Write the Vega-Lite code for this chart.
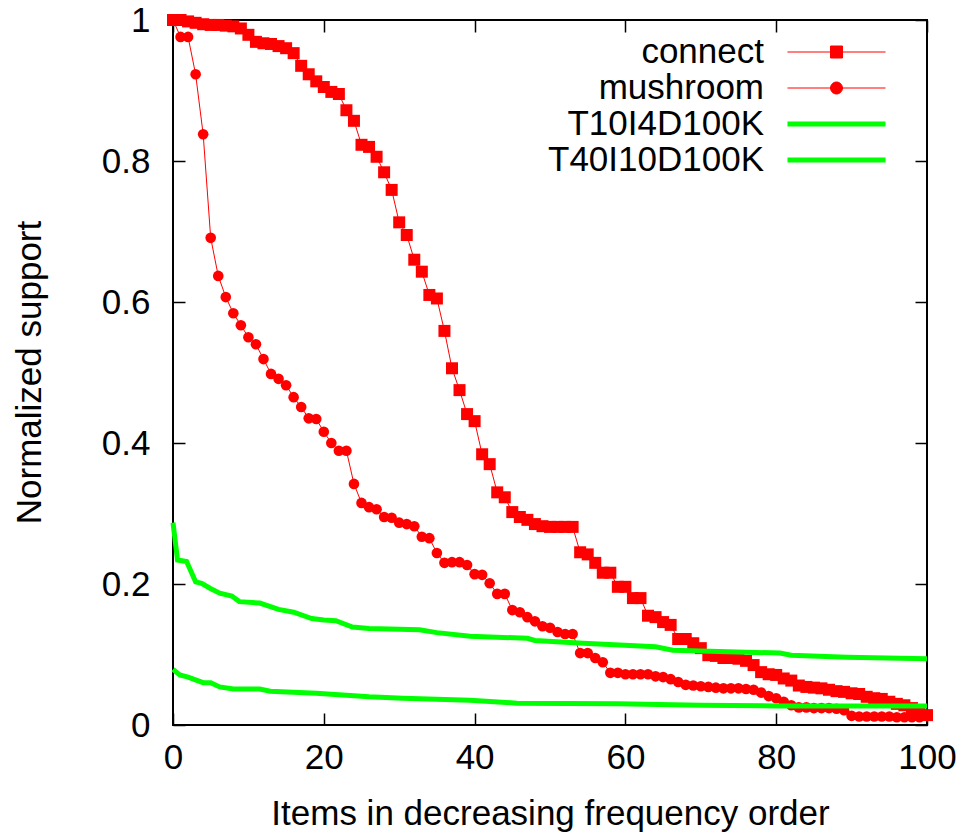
{
  "$schema": "https://vega.github.io/schema/vega-lite/v6.json",
  "width": 754,
  "height": 705,
  "autosize": {"type": "none"},
  "padding": {"left": 173, "top": 20, "right": 38, "bottom": 109},
  "background": "white",
  "config": {
    "view": {"stroke": "black", "strokeWidth": 2},
    "font": "Liberation Sans",
    "axis": {
      "domain": false, "grid": false, "tickColor": "black", "tickWidth": 1.5, "tickSize": -12,
      "labelFont": "Liberation Sans", "labelFontSize": 35, "labelColor": "black",
      "titleFont": "Liberation Sans", "titleFontSize": 35, "titleFontWeight": "normal", "titleColor": "black"
    }
  },
  "data": {"values": [
    {"s":"connect","x":0,"y":1.0},{"s":"connect","x":1,"y":1.0},{"s":"connect","x":2,"y":0.998},{"s":"connect","x":3,"y":0.996},{"s":"connect","x":4,"y":0.994},
    {"s":"connect","x":5,"y":0.993},{"s":"connect","x":6,"y":0.993},{"s":"connect","x":7,"y":0.992},{"s":"connect","x":8,"y":0.991},{"s":"connect","x":9,"y":0.988},
    {"s":"connect","x":10,"y":0.979},{"s":"connect","x":11,"y":0.969},{"s":"connect","x":12,"y":0.967},{"s":"connect","x":13,"y":0.966},{"s":"connect","x":14,"y":0.963},
    {"s":"connect","x":15,"y":0.960},{"s":"connect","x":16,"y":0.953},{"s":"connect","x":17,"y":0.935},{"s":"connect","x":18,"y":0.923},{"s":"connect","x":19,"y":0.913},
    {"s":"connect","x":20,"y":0.905},{"s":"connect","x":21,"y":0.898},{"s":"connect","x":22,"y":0.895},{"s":"connect","x":23,"y":0.872},{"s":"connect","x":24,"y":0.857},
    {"s":"connect","x":25,"y":0.823},{"s":"connect","x":26,"y":0.820},{"s":"connect","x":27,"y":0.806},{"s":"connect","x":28,"y":0.784},{"s":"connect","x":29,"y":0.759},
    {"s":"connect","x":30,"y":0.713},{"s":"connect","x":31,"y":0.695},{"s":"connect","x":32,"y":0.660},{"s":"connect","x":33,"y":0.643},{"s":"connect","x":34,"y":0.610},
    {"s":"connect","x":35,"y":0.605},{"s":"connect","x":36,"y":0.559},{"s":"connect","x":37,"y":0.506},{"s":"connect","x":38,"y":0.475},{"s":"connect","x":39,"y":0.441},
    {"s":"connect","x":40,"y":0.431},{"s":"connect","x":41,"y":0.384},{"s":"connect","x":42,"y":0.370},{"s":"connect","x":43,"y":0.330},{"s":"connect","x":44,"y":0.323},
    {"s":"connect","x":45,"y":0.302},{"s":"connect","x":46,"y":0.295},{"s":"connect","x":47,"y":0.291},{"s":"connect","x":48,"y":0.285},{"s":"connect","x":49,"y":0.282},
    {"s":"connect","x":50,"y":0.281},{"s":"connect","x":51,"y":0.281},{"s":"connect","x":52,"y":0.281},{"s":"connect","x":53,"y":0.281},{"s":"connect","x":54,"y":0.245},
    {"s":"connect","x":55,"y":0.242},{"s":"connect","x":56,"y":0.230},{"s":"connect","x":57,"y":0.216},{"s":"connect","x":58,"y":0.216},{"s":"connect","x":59,"y":0.196},
    {"s":"connect","x":60,"y":0.196},{"s":"connect","x":61,"y":0.180},{"s":"connect","x":62,"y":0.180},{"s":"connect","x":63,"y":0.155},{"s":"connect","x":64,"y":0.153},
    {"s":"connect","x":65,"y":0.146},{"s":"connect","x":66,"y":0.142},{"s":"connect","x":67,"y":0.122},{"s":"connect","x":68,"y":0.122},{"s":"connect","x":69,"y":0.116},
    {"s":"connect","x":70,"y":0.109},{"s":"connect","x":71,"y":0.099},{"s":"connect","x":72,"y":0.098},{"s":"connect","x":73,"y":0.095},{"s":"connect","x":74,"y":0.095},
    {"s":"connect","x":75,"y":0.094},{"s":"connect","x":76,"y":0.091},{"s":"connect","x":77,"y":0.085},{"s":"connect","x":78,"y":0.075},{"s":"connect","x":79,"y":0.072},
    {"s":"connect","x":80,"y":0.071},{"s":"connect","x":81,"y":0.066},{"s":"connect","x":82,"y":0.063},{"s":"connect","x":83,"y":0.056},{"s":"connect","x":84,"y":0.054},
    {"s":"connect","x":85,"y":0.053},{"s":"connect","x":86,"y":0.052},{"s":"connect","x":87,"y":0.050},{"s":"connect","x":88,"y":0.048},{"s":"connect","x":89,"y":0.047},
    {"s":"connect","x":90,"y":0.045},{"s":"connect","x":91,"y":0.044},{"s":"connect","x":92,"y":0.040},{"s":"connect","x":93,"y":0.038},{"s":"connect","x":94,"y":0.037},
    {"s":"connect","x":95,"y":0.033},{"s":"connect","x":96,"y":0.030},{"s":"connect","x":97,"y":0.028},{"s":"connect","x":98,"y":0.024},{"s":"connect","x":99,"y":0.021},
    {"s":"connect","x":100,"y":0.014},
    {"s":"mushroom","x":0,"y":1.0},{"s":"mushroom","x":1,"y":0.976},{"s":"mushroom","x":2,"y":0.976},{"s":"mushroom","x":3,"y":0.923},{"s":"mushroom","x":4,"y":0.838},
    {"s":"mushroom","x":5,"y":0.691},{"s":"mushroom","x":6,"y":0.637},{"s":"mushroom","x":7,"y":0.607},{"s":"mushroom","x":8,"y":0.584},{"s":"mushroom","x":9,"y":0.567},
    {"s":"mushroom","x":10,"y":0.550},{"s":"mushroom","x":11,"y":0.540},{"s":"mushroom","x":12,"y":0.519},{"s":"mushroom","x":13,"y":0.498},{"s":"mushroom","x":14,"y":0.491},
    {"s":"mushroom","x":15,"y":0.482},{"s":"mushroom","x":16,"y":0.465},{"s":"mushroom","x":17,"y":0.451},{"s":"mushroom","x":18,"y":0.435},{"s":"mushroom","x":19,"y":0.434},
    {"s":"mushroom","x":20,"y":0.416},{"s":"mushroom","x":21,"y":0.400},{"s":"mushroom","x":22,"y":0.389},{"s":"mushroom","x":23,"y":0.389},{"s":"mushroom","x":24,"y":0.342},
    {"s":"mushroom","x":25,"y":0.315},{"s":"mushroom","x":26,"y":0.309},{"s":"mushroom","x":27,"y":0.306},{"s":"mushroom","x":28,"y":0.295},{"s":"mushroom","x":29,"y":0.294},
    {"s":"mushroom","x":30,"y":0.287},{"s":"mushroom","x":31,"y":0.285},{"s":"mushroom","x":32,"y":0.282},{"s":"mushroom","x":33,"y":0.267},{"s":"mushroom","x":34,"y":0.265},
    {"s":"mushroom","x":35,"y":0.244},{"s":"mushroom","x":36,"y":0.230},{"s":"mushroom","x":37,"y":0.231},{"s":"mushroom","x":38,"y":0.231},{"s":"mushroom","x":39,"y":0.227},
    {"s":"mushroom","x":40,"y":0.214},{"s":"mushroom","x":41,"y":0.213},{"s":"mushroom","x":42,"y":0.201},{"s":"mushroom","x":43,"y":0.186},{"s":"mushroom","x":44,"y":0.186},
    {"s":"mushroom","x":45,"y":0.163},{"s":"mushroom","x":46,"y":0.160},{"s":"mushroom","x":47,"y":0.153},{"s":"mushroom","x":48,"y":0.147},{"s":"mushroom","x":49,"y":0.140},
    {"s":"mushroom","x":50,"y":0.138},{"s":"mushroom","x":51,"y":0.132},{"s":"mushroom","x":52,"y":0.129},{"s":"mushroom","x":53,"y":0.129},{"s":"mushroom","x":54,"y":0.102},
    {"s":"mushroom","x":55,"y":0.102},{"s":"mushroom","x":56,"y":0.095},{"s":"mushroom","x":57,"y":0.089},{"s":"mushroom","x":58,"y":0.074},{"s":"mushroom","x":59,"y":0.074},
    {"s":"mushroom","x":60,"y":0.072},{"s":"mushroom","x":61,"y":0.072},{"s":"mushroom","x":62,"y":0.072},{"s":"mushroom","x":63,"y":0.072},{"s":"mushroom","x":64,"y":0.069},
    {"s":"mushroom","x":65,"y":0.068},{"s":"mushroom","x":66,"y":0.065},{"s":"mushroom","x":67,"y":0.061},{"s":"mushroom","x":68,"y":0.057},{"s":"mushroom","x":69,"y":0.056},
    {"s":"mushroom","x":70,"y":0.055},{"s":"mushroom","x":71,"y":0.054},{"s":"mushroom","x":72,"y":0.053},{"s":"mushroom","x":73,"y":0.052},{"s":"mushroom","x":74,"y":0.052},
    {"s":"mushroom","x":75,"y":0.052},{"s":"mushroom","x":76,"y":0.051},{"s":"mushroom","x":77,"y":0.050},{"s":"mushroom","x":78,"y":0.046},{"s":"mushroom","x":79,"y":0.041},
    {"s":"mushroom","x":80,"y":0.038},{"s":"mushroom","x":81,"y":0.033},{"s":"mushroom","x":82,"y":0.028},{"s":"mushroom","x":83,"y":0.025},{"s":"mushroom","x":84,"y":0.025},
    {"s":"mushroom","x":85,"y":0.024},{"s":"mushroom","x":86,"y":0.024},{"s":"mushroom","x":87,"y":0.024},{"s":"mushroom","x":88,"y":0.023},{"s":"mushroom","x":89,"y":0.021},
    {"s":"mushroom","x":90,"y":0.013},{"s":"mushroom","x":91,"y":0.012},{"s":"mushroom","x":92,"y":0.012},{"s":"mushroom","x":93,"y":0.012},{"s":"mushroom","x":94,"y":0.012},
    {"s":"mushroom","x":95,"y":0.012},{"s":"mushroom","x":96,"y":0.011},{"s":"mushroom","x":97,"y":0.011},{"s":"mushroom","x":98,"y":0.011},{"s":"mushroom","x":99,"y":0.011},
    {"s":"mushroom","x":100,"y":0.013},
    {"s":"T40I10D100K","x":0,"y":0.287},{"s":"T40I10D100K","x":0.6,"y":0.234},{"s":"T40I10D100K","x":1.8,"y":0.232},{"s":"T40I10D100K","x":3,"y":0.203},
    {"s":"T40I10D100K","x":3.8,"y":0.201},{"s":"T40I10D100K","x":4.9,"y":0.194},{"s":"T40I10D100K","x":6.2,"y":0.187},{"s":"T40I10D100K","x":7.8,"y":0.183},
    {"s":"T40I10D100K","x":8.8,"y":0.175},{"s":"T40I10D100K","x":11.5,"y":0.173},{"s":"T40I10D100K","x":14,"y":0.164},{"s":"T40I10D100K","x":16,"y":0.160},
    {"s":"T40I10D100K","x":18.4,"y":0.151},{"s":"T40I10D100K","x":20,"y":0.149},{"s":"T40I10D100K","x":21.6,"y":0.148},{"s":"T40I10D100K","x":23.8,"y":0.139},
    {"s":"T40I10D100K","x":26,"y":0.137},{"s":"T40I10D100K","x":32.7,"y":0.135},{"s":"T40I10D100K","x":35,"y":0.131},{"s":"T40I10D100K","x":39.4,"y":0.126},
    {"s":"T40I10D100K","x":47,"y":0.123},{"s":"T40I10D100K","x":48,"y":0.120},{"s":"T40I10D100K","x":54.4,"y":0.116},{"s":"T40I10D100K","x":64,"y":0.111},
    {"s":"T40I10D100K","x":66.3,"y":0.106},{"s":"T40I10D100K","x":70,"y":0.105},{"s":"T40I10D100K","x":80.5,"y":0.102},{"s":"T40I10D100K","x":82,"y":0.099},
    {"s":"T40I10D100K","x":89.4,"y":0.096},{"s":"T40I10D100K","x":100,"y":0.094},
    {"s":"T10I4D100K","x":0,"y":0.079},{"s":"T10I4D100K","x":0.9,"y":0.071},{"s":"T10I4D100K","x":2,"y":0.068},{"s":"T10I4D100K","x":4,"y":0.060},
    {"s":"T10I4D100K","x":5,"y":0.060},{"s":"T10I4D100K","x":6.2,"y":0.054},{"s":"T10I4D100K","x":8,"y":0.051},{"s":"T10I4D100K","x":11.5,"y":0.051},
    {"s":"T10I4D100K","x":12.9,"y":0.048},{"s":"T10I4D100K","x":19,"y":0.045},{"s":"T10I4D100K","x":26,"y":0.040},{"s":"T10I4D100K","x":30.5,"y":0.038},
    {"s":"T10I4D100K","x":39.4,"y":0.035},{"s":"T10I4D100K","x":45.6,"y":0.031},{"s":"T10I4D100K","x":59,"y":0.030},{"s":"T10I4D100K","x":70,"y":0.028},
    {"s":"T10I4D100K","x":80,"y":0.027},{"s":"T10I4D100K","x":100,"y":0.027}
  ]},
  "layer": [
    {
      "transform": [{"filter": "datum.s === 'connect' || datum.s === 'mushroom'"}],
      "mark": {"type": "line", "strokeWidth": 1},
      "encoding": {
        "x": {"field": "x", "type": "quantitative", "scale": {"domain": [0, 100], "nice": false, "zero": false},
              "axis": {"orient": "bottom", "values": [0, 20, 40, 60, 80, 100], "labelPadding": 27, "labelFlush": false,
                       "title": "Items in decreasing frequency order", "titleX": 377, "titleY": 99, "titleBaseline": "alphabetic", "titleAlign": "center", "titleAnchor": null}},
        "y": {"field": "y", "type": "quantitative", "scale": {"domain": [0, 1], "nice": false, "zero": false},
              "axis": {"orient": "left", "values": [0, 0.2, 0.4, 0.6, 0.8, 1], "format": "~g", "labelPadding": 35, "labelFlush": false,
                       "title": "Normalized support", "titleX": -133, "titleY": 352, "titleAngle": 270, "titleBaseline": "alphabetic", "titleAlign": "center", "titleAnchor": null}},
        "color": {"field": "s", "type": "nominal",
                  "scale": {"domain": ["connect", "mushroom", "T10I4D100K", "T40I10D100K"], "range": ["#ff0000", "#ff0000", "#00ff00", "#00ff00"]},
                  "legend": {
                    "orient": "none", "legendX": 646, "legendY": 14.5, "direction": "vertical", "padding": 0, "rowPadding": -0.3,
                    "title": null, "symbolSize": 144, "labelFont": "Liberation Sans", "labelFontSize": 35, "labelColor": "black",
                    "labelAlign": "right", "labelBaseline": "middle", "labelOffset": -90, "labelLimit": 400,
                    "encode": {"symbols": {"update": {
                      "shape": {"signal": "datum.value === 'connect' ? 'M-8.17,0H8.17M-1,-1H1V1H-1Z' : datum.value === 'mushroom' ? 'M-8.17,0H8.17M1,0A1,1,0,1,1,-1,0A1,1,0,1,1,1,0Z' : 'M-8.17,0H8.17'"},
                      "size": {"value": 144},
                      "fill": {"signal": "datum.value === 'connect' || datum.value === 'mushroom' ? '#ff0000' : 'transparent'"},
                      "stroke": {"signal": "datum.value === 'connect' || datum.value === 'mushroom' ? '#ff0000' : '#00ff00'"},
                      "strokeWidth": {"signal": "datum.value === 'connect' || datum.value === 'mushroom' ? 1 : 5"},
                      "opacity": {"value": 1},
                      "fillOpacity": {"value": 1},
                      "strokeOpacity": {"value": 1}
                    }}}
                  }}
      }
    },
    {
      "transform": [{"filter": "datum.s === 'connect' || datum.s === 'mushroom'"}],
      "mark": {"type": "point", "filled": true, "opacity": 1, "strokeWidth": 0},
      "encoding": {
        "x": {"field": "x", "type": "quantitative", "axis": null},
        "y": {"field": "y", "type": "quantitative", "axis": null},
        "color": {"field": "s", "type": "nominal"},
        "shape": {"field": "s", "type": "nominal", "scale": {"domain": ["connect", "mushroom"], "range": ["square", "circle"]}, "legend": null},
        "size": {"field": "s", "type": "nominal", "scale": {"domain": ["connect", "mushroom"], "range": [144, 113]}, "legend": null}
      }
    },
    {
      "transform": [{"filter": "datum.s === 'T10I4D100K' || datum.s === 'T40I10D100K'"}],
      "mark": {"type": "line", "strokeWidth": 5},
      "encoding": {
        "x": {"field": "x", "type": "quantitative", "axis": {"orient": "top", "values": [0, 20, 40, 60, 80, 100], "labels": false, "title": null}},
        "y": {"field": "y", "type": "quantitative", "axis": {"orient": "right", "values": [0, 0.2, 0.4, 0.6, 0.8, 1], "labels": false, "title": null}},
        "color": {"field": "s", "type": "nominal"}
      }
    }
  ],
  "resolve": {"axis": {"x": "independent", "y": "independent"}}
}
